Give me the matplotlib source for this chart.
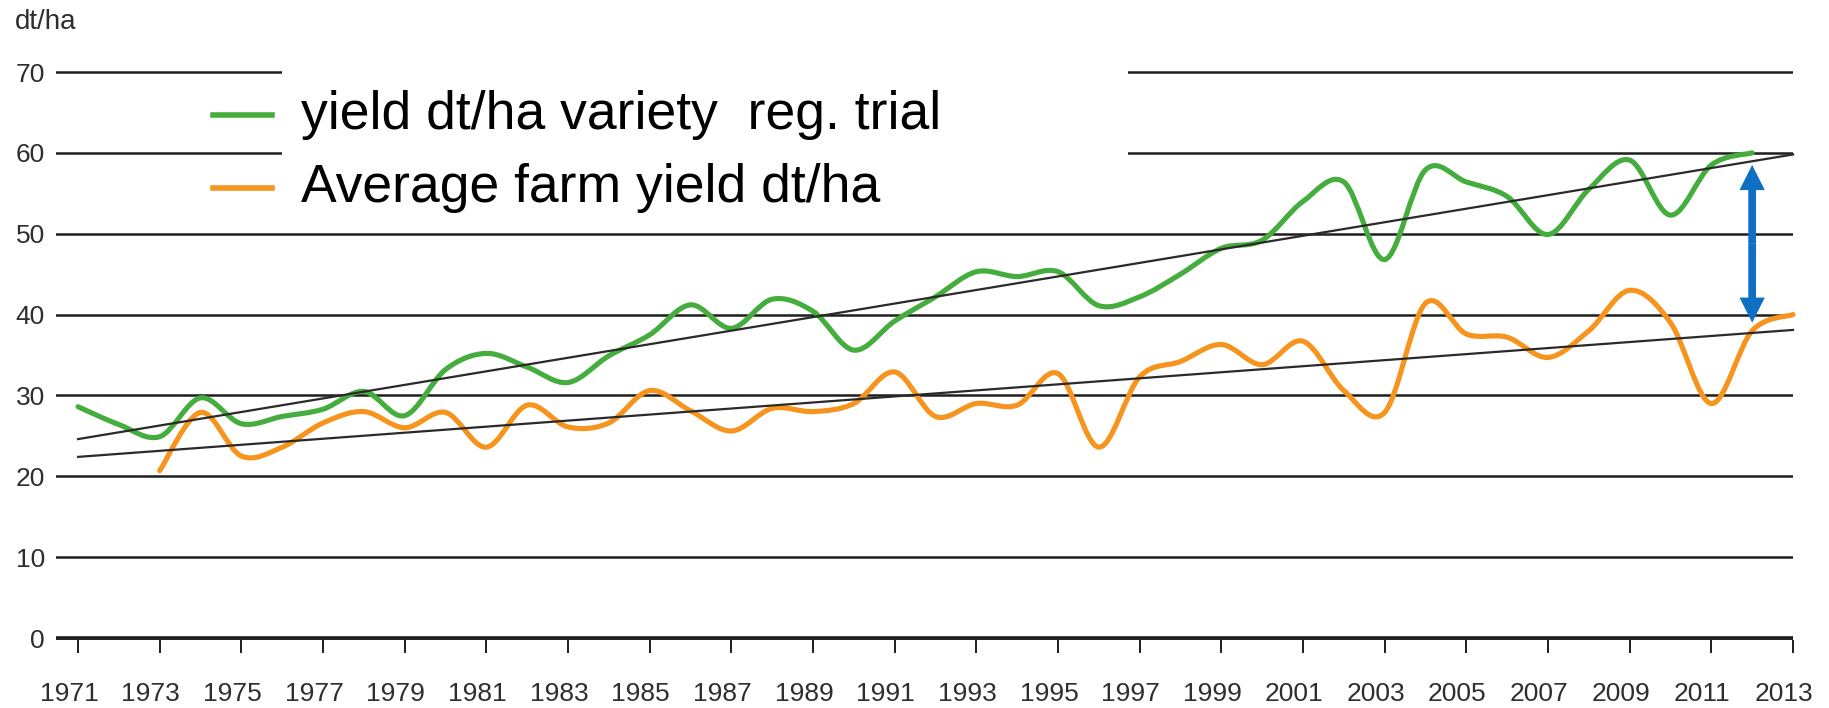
import numpy as np
import matplotlib.pyplot as plt
from matplotlib.path import Path
from matplotlib.patches import PathPatch, Rectangle, FancyArrow
from matplotlib.lines import Line2D
from matplotlib.transforms import ScaledTranslation

plt.rcParams['font.family'] = ['Liberation Sans', 'DejaVu Sans']

# yearly yields (dt/ha)
years_trial = list(range(1971, 2013))
yield_trial = [28.6, 26.4, 24.9, 29.7, 26.5, 27.4, 28.3, 30.5, 27.5, 33.2,
               35.2, 33.5, 31.6, 34.9, 37.5, 41.2, 38.3, 41.9, 40.4, 35.6,
               39.2, 42.2, 45.3, 44.7, 45.3, 41.1, 42.2, 45.0, 48.2, 49.2,
               54.0, 56.4, 46.8, 57.9, 56.4, 54.6, 49.9, 55.5, 59.1, 52.3,
               58.5, 60.0]
years_farm = list(range(1973, 2014))
yield_farm = [20.7, 27.9, 22.5, 23.6, 26.6, 28.0, 26.0, 27.9, 23.6, 28.8,
              26.1, 26.6, 30.6, 28.1, 25.6, 28.4, 28.0, 29.0, 32.9, 27.4,
              29.0, 28.8, 32.7, 23.6, 32.3, 34.2, 36.3, 33.8, 36.7, 30.6,
              27.9, 41.4, 37.6, 37.2, 34.7, 38.0, 43.0, 39.0, 29.0, 38.0,
              40.0]

# trend line end values
trend_years = [1971, 2013]
trend_trial = [24.6, 59.8]
trend_farm = [22.4, 38.1]

# gap arrow
gap_year = 2012
gap_low, gap_high = 39.0, 58.5

legend_labels = ['yield dt/ha variety  reg. trial', 'Average farm yield dt/ha']
tick_years = list(range(1971, 2014, 2))
y_ticks = list(range(0, 80, 10))

GREEN = '#45ad3d'
ORANGE = '#f7941d'
BLUE = '#0f6fc3'
INK = '#1e1e1e'

W, H = 1829, 708


def smooth_path(x, y):
    # Excel style smoothed line as cubic bezier segments
    pts = np.column_stack([x, y]).astype(float)
    n = len(pts)
    verts = [pts[0]]
    codes = [Path.MOVETO]
    for i in range(n - 1):
        p0 = pts[max(i - 1, 0)]
        p1 = pts[i]
        p2 = pts[i + 1]
        p3 = pts[min(i + 2, n - 1)]
        verts += [p1 + (p2 - p0) / 6, p2 - (p3 - p1) / 6, p2]
        codes += [Path.CURVE4] * 3
    return Path(verts, codes)


fig = plt.figure(figsize=(W / 100, H / 100), dpi=100)
y0, y70 = 638, 72
per = (y0 - y70) / 70
bottom = (H - (y0 + 0.3 * per)) / H
top = (H - (y70 - 0.3 * per)) / H
ax = fig.add_axes([56 / W, bottom, (1793 - 56) / W, top - bottom])

for xs, ys, c in [(years_trial, yield_trial, GREEN),
                  (years_farm, yield_farm, ORANGE)]:
    ax.add_patch(PathPatch(smooth_path(xs, ys), fill=False, edgecolor=c,
                           lw=3.7, capstyle='round', joinstyle='round',
                           clip_on=False, zorder=3))

ax.plot(trend_years, trend_trial, color='#2a2a2a', lw=1.6, zorder=4,
        clip_on=False)
ax.plot(trend_years, trend_farm, color='#2a2a2a', lw=1.6, zorder=4,
        clip_on=False)

# double headed arrow built from two halves (vertical, so widths are in years)
mid = (gap_low + gap_high) / 2
for end in (gap_high, gap_low):
    ax.add_patch(FancyArrow(gap_year, mid, 0, end - mid, width=0.19,
                            head_width=0.62, head_length=3.1,
                            length_includes_head=True, color=BLUE, lw=0,
                            zorder=5, clip_on=False))

ax.set_xlim(1970.46, 2013)
ax.set_ylim(-0.3, 70.3)
for s in ax.spines.values():
    s.set_visible(False)
ax.set_yticks(y_ticks)
ax.set_xticks(tick_years)
ax.grid(axis='y', color=INK, lw=1.8)
ax.set_axisbelow(True)
ax.axhline(0, color=INK, lw=2.6, zorder=1)
ax.tick_params(axis='y', length=0, pad=8, labelsize=19, labelcolor='#2e2e2e')
ax.tick_params(axis='x', length=9, width=1.4, color=INK, pad=21,
               labelsize=19, labelcolor='#2e2e2e')
# year labels sit a little left of their ticks in the original
shift = ScaledTranslation(-9 / 100, 0, fig.dpi_scale_trans)
for lab in ax.get_xticklabels():
    lab.set_transform(lab.get_transform() + shift)

fig.text(15 / W, 1 - 22 / H, 'dt/ha', fontsize=20, va='center', ha='left',
         color='#2e2e2e')

# pasted legend block
fig.add_artist(Rectangle((282 / W, 1 - 215 / H), (1128 - 282) / W, 177 / H,
                         transform=fig.transFigure, facecolor='white',
                         edgecolor='none', zorder=1))
for label, c, yy in zip(legend_labels, [GREEN, ORANGE], [115, 188]):
    fig.add_artist(Line2D([213 / W, 272 / W], [1 - yy / H] * 2,
                          transform=fig.transFigure, color=c, lw=4,
                          zorder=2))
    fig.text(301 / W, 1 - yy / H, label, fontsize=38.5, va='center',
             ha='left', color='black', zorder=2)

fig.savefig('out.png', dpi=100)
